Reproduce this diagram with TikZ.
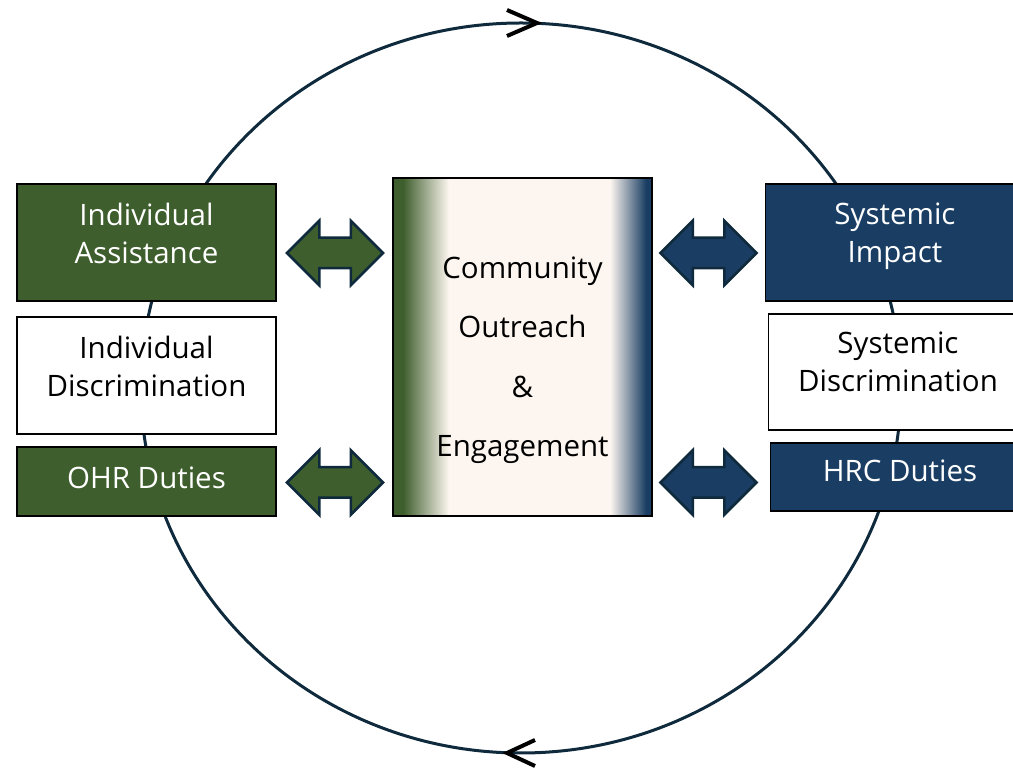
\documentclass[tikz,border=0pt]{standalone}
\usepackage{fontspec}
\setmainfont{Open Sans}
\usetikzlibrary{shapes.arrows,positioning,calc}

\definecolor{ohrgreen}{HTML}{3E5E2D}
\definecolor{hrcblue}{HTML}{1A3E63}
\definecolor{ringblue}{HTML}{0E2A3C}
\definecolor{cream}{HTML}{FDF6F0}

\tikzset{
  sidebox/.style={draw=black, line width=1.2pt, minimum width=259pt, inner sep=0pt},
  greenbox/.style={sidebox, fill=ohrgreen},
  bluebox/.style={sidebox, fill=hrcblue},
  whitebox/.style={sidebox, fill=white},
  boxtext/.style={align=center, inner sep=0pt, font=\fontsize{29.5}{38}\selectfont},
  lighttext/.style={boxtext, text=white},
  darktext/.style={boxtext, text=black},
  centrebox/.style={draw=black, line width=1.2pt, fill=cream, minimum width=259pt,
    minimum height=338pt, inner sep=0pt,
    path picture={
      \fill[ohrgreen] (path picture bounding box.south west) rectangle ([xshift=10pt]path picture bounding box.north west);
      \shade[left color=ohrgreen, right color=cream]
        ([xshift=10pt]path picture bounding box.south west) rectangle ([xshift=56pt]path picture bounding box.north west);
      \shade[left color=cream, right color=hrcblue]
        ([xshift=-42pt]path picture bounding box.south east) rectangle ([xshift=-6pt]path picture bounding box.north east);
      \fill[hrcblue] ([xshift=-6pt]path picture bounding box.south east) rectangle (path picture bounding box.north east);
    }},
  dblarrow/.style={double arrow, draw=ringblue, line width=2.5pt,
    inner xsep=0pt, inner ysep=14pt, text height=0pt, text depth=0pt,
    minimum height=96pt, minimum width=62pt, double arrow head extend=17pt,
    double arrow tip angle=90},
  flowmark/.style={black, line width=4pt}
}

\begin{document}
\begin{tikzpicture}[x=1pt,y=1pt]
    \useasboundingbox (0,0) rectangle (1013,771);
    \clip (0,0) rectangle (1013,771);

    % Ring behind the boxes
    \draw[ringblue, line width=3pt] (521,383) ellipse [x radius=380pt, y radius=365pt];

    % Flow direction marks on the ring
    \coordinate (topflow) at (537,748);
    \coordinate (botflow) at (507,18);
    \draw[flowmark] ([shift={(-30,13)}]topflow) -- (topflow) -- ([shift={(-30,-13)}]topflow);
    \draw[flowmark] ([shift={(28,13)}]botflow) -- (botflow) -- ([shift={(28,-13)}]botflow);

    % Left column (OHR)
    \node[greenbox, minimum height=117pt] (ia) at (146.5,528.5) {};
    \node[lighttext] (ia-text) at ([yshift=9]ia.center) {Individual\\Assistance};
    \node[whitebox, minimum height=117pt] (id) at (146.5,395.5) {};
    \node[darktext] (id-text) at ([yshift=9]id.center) {Individual\\Discrimination};
    \node[greenbox, minimum height=69pt] (ohr) at (146.5,289.5) {};
    \node[lighttext] (ohr-text) at ([yshift=4]ohr.center) {OHR Duties};

    % Centre
    \node[centrebox] (ce) at (522.5,424) {};
    \node[darktext, font=\fontsize{29.5}{59.5}\selectfont] (ce-text) at ([yshift=-13]ce.center)
      {Community\\Outreach\\\&\\Engagement};

    % Right column (HRC)
    \node[bluebox, minimum height=117pt] (si) at (895,528.5) {};
    \node[lighttext] (si-text) at ([yshift=6]si.center) {Systemic\\Impact};
    \node[whitebox, minimum height=116pt] (sd) at (898,399) {};
    \node[darktext] (sd-text) at ([yshift=10]sd.center) {Systemic\\Discrimination};
    \node[bluebox, minimum height=68pt] (hrc) at (900,294) {};
    \node[lighttext] (hrc-text) at ([yshift=6]hrc.center) {HRC Duties};

    % Two-way arrows to the centre
    \node[dblarrow, fill=ohrgreen] (ia-ce) at (335,518) {};
    \node[dblarrow, fill=ohrgreen] (ohr-ce) at (335,288.5) {};
    \node[dblarrow, fill=hrcblue] (ce-si) at (708.5,518) {};
    \node[dblarrow, fill=hrcblue] (ce-hrc) at (708.5,288.5) {};
\end{tikzpicture}
\end{document}
